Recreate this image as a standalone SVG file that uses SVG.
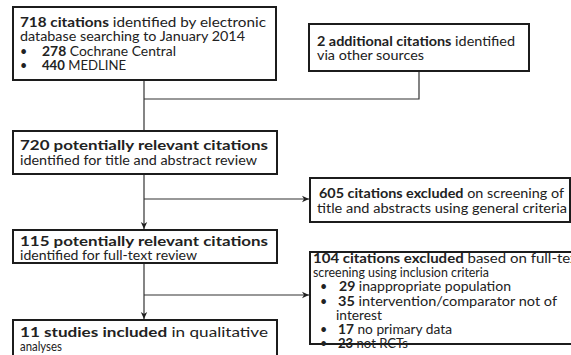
<svg xmlns="http://www.w3.org/2000/svg" width="571" height="355" viewBox="0 0 571 355">
<defs>
<marker id="arr" markerWidth="8" markerHeight="8" refX="7" refY="4" orient="auto" markerUnits="userSpaceOnUse">
<path d="M0,0.8 L7,4 L0,7.2 L2,4 Z" fill="#222"/>
</marker>
<style>
.box{fill:#fff;stroke:#1c1c1c;stroke-width:2}
.t{font-family:Lato,"Open Sans","Liberation Sans",sans-serif;font-size:12.5px;fill:#222}
.b{font-weight:bold}
.c{fill:none;stroke:#333;stroke-width:1.2}
</style>
</defs>
<rect width="571" height="355" fill="#fff"/>
<g id="connectors">
<path class="c" d="M144,80 V131"/>
<path class="c" d="M419,71 V99 H144"/>
<path class="c" d="M144,174 V229" marker-end="url(#arr)"/>
<path class="c" d="M144,199 H309" marker-end="url(#arr)"/>
<path class="c" d="M144,263 V319" marker-end="url(#arr)"/>
<path class="c" d="M144,295 H309" marker-end="url(#arr)"/>
</g>
<g id="n1">
<rect class="box" x="13" y="7" width="263" height="73"/>
<text class="t" x="20" y="27" textLength="246" lengthAdjust="spacingAndGlyphs"><tspan class="b">718 citations</tspan> identified by electronic</text>
<text class="t" x="20" y="41" textLength="225" lengthAdjust="spacingAndGlyphs">database searching to January 2014</text>
<text class="t" x="20" y="56">•</text>
<text class="t" x="42" y="56" textLength="134" lengthAdjust="spacingAndGlyphs"><tspan class="b">278</tspan> Cochrane Central</text>
<text class="t" x="20" y="70">•</text>
<text class="t" x="42" y="70" textLength="84" lengthAdjust="spacingAndGlyphs"><tspan class="b">440</tspan> MEDLINE</text>
</g>
<g id="n2">
<rect class="box" x="309" y="24" width="220" height="47"/>
<text class="t" x="317" y="46" textLength="198" lengthAdjust="spacingAndGlyphs"><tspan class="b">2 additional citations</tspan> identified</text>
<text class="t" x="317" y="60" textLength="107" lengthAdjust="spacingAndGlyphs">via other sources</text>
</g>
<g id="n3">
<rect class="box" x="13" y="131" width="264" height="43"/>
<text class="t b" x="20" y="150" textLength="248" lengthAdjust="spacingAndGlyphs">720 potentially relevant citations</text>
<text class="t" x="20" y="165" textLength="237" lengthAdjust="spacingAndGlyphs">identified for title and abstract review</text>
</g>
<g id="n4">
<rect class="box" x="310" y="178" width="260" height="44"/>
<text class="t" x="319" y="198" textLength="245" lengthAdjust="spacingAndGlyphs"><tspan class="b">605 citations excluded</tspan> on screening of</text>
<text class="t" x="317" y="213" textLength="250" lengthAdjust="spacingAndGlyphs">title and abstracts using general criteria</text>
</g>
<g id="n5">
<rect class="box" x="13" y="230" width="264" height="33"/>
<text class="t b" x="20" y="246" textLength="248" lengthAdjust="spacingAndGlyphs">115 potentially relevant citations</text>
<text class="t" x="20" y="260" textLength="177" lengthAdjust="spacingAndGlyphs">identified for full-text review</text>
</g>
<g id="n6">
<rect class="box" x="310" y="252" width="270" height="92"/>
<text class="t" x="313" y="263" textLength="270" lengthAdjust="spacingAndGlyphs"><tspan class="b">104 citations excluded</tspan> based on full-text</text>
<text class="t" x="313" y="277" textLength="176" lengthAdjust="spacingAndGlyphs">screening using inclusion criteria</text>
<text class="t" x="320" y="291">•</text>
<text class="t" x="339" y="291" textLength="172" lengthAdjust="spacingAndGlyphs"><tspan class="b">29</tspan> inappropriate population</text>
<text class="t" x="320" y="306">•</text>
<text class="t" x="338" y="306" textLength="219" lengthAdjust="spacingAndGlyphs"><tspan class="b">35</tspan> intervention/comparator not of</text>
<text class="t" x="336" y="320" textLength="46" lengthAdjust="spacingAndGlyphs">interest</text>
<text class="t" x="320" y="334">•</text>
<text class="t" x="338" y="334" textLength="114" lengthAdjust="spacingAndGlyphs"><tspan class="b">17</tspan> no primary data</text>
<text class="t" x="320" y="348">•</text>
<text class="t" x="338" y="348" textLength="70" lengthAdjust="spacingAndGlyphs"><tspan class="b">23</tspan> not RCTs</text>
</g>
<g id="n7">
<rect class="box" x="13" y="320" width="264" height="50"/>
<text class="t" x="20" y="337" textLength="248" lengthAdjust="spacingAndGlyphs"><tspan class="b">11 studies included</tspan> in qualitative</text>
<text class="t" x="20" y="351" textLength="42" lengthAdjust="spacingAndGlyphs">analyses</text>
</g>
</svg>
